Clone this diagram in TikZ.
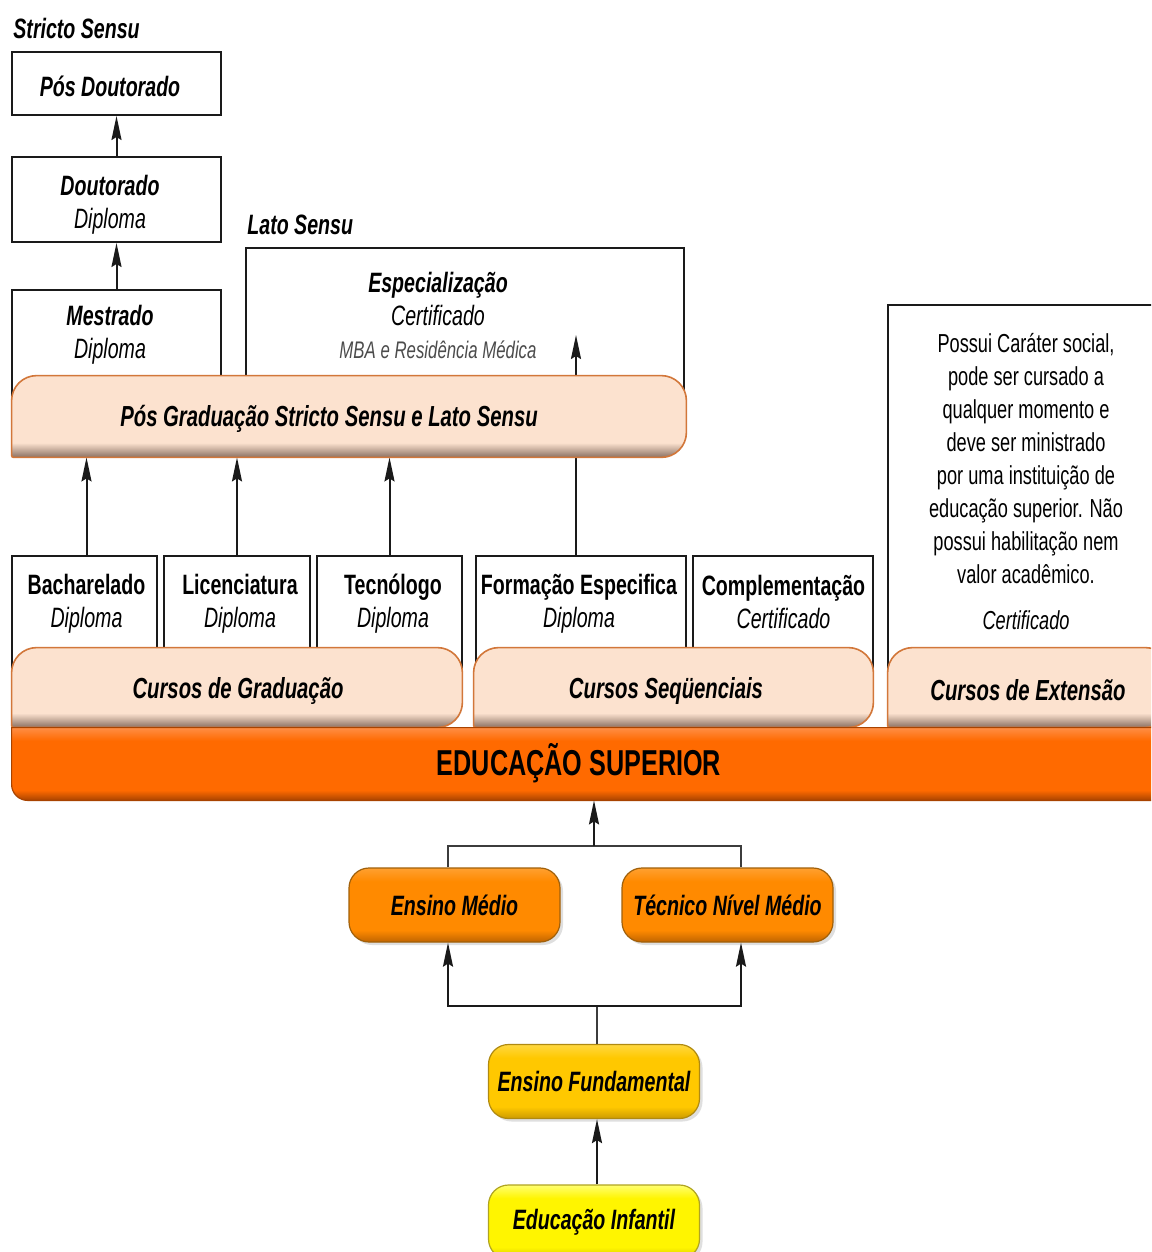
\documentclass[tikz,border=0pt]{standalone}
\usepackage{fontspec}
\setmainfont{Liberation Sans}[FakeStretch=0.7]
\usetikzlibrary{fit,calc,shadows,arrows.meta}
\definecolor{peach}{HTML}{FCE2CF}
\definecolor{peachdk}{HTML}{8A7062}
\definecolor{peachbd}{HTML}{D2773A}
\definecolor{eduor}{HTML}{FF6A00}
\definecolor{eduhi}{HTML}{FF8E45}
\definecolor{edudk}{HTML}{A84300}
\definecolor{medor}{HTML}{FF8A00}
\definecolor{medhi}{HTML}{FFA030}
\definecolor{meddk}{HTML}{C06400}
\definecolor{medbd}{HTML}{A0600A}
\definecolor{fundy}{HTML}{FFC800}
\definecolor{fundhi}{HTML}{FFD840}
\definecolor{funddk}{HTML}{CC9A00}
\definecolor{fundbd}{HTML}{B08A10}
\definecolor{infy}{HTML}{FFF500}
\definecolor{infhi}{HTML}{FFFF70}
\definecolor{infdk}{HTML}{D6C800}
\definecolor{infbd}{HTML}{B0A420}
\definecolor{linec}{HTML}{1A1A1A}
\pgfdeclareverticalshading{peachsh}{100bp}{color(0bp)=(peachdk); color(25bp)=(peachdk); color(34bp)=(peach); color(100bp)=(peach)}
\pgfdeclareverticalshading{edush}{100bp}{color(0bp)=(edudk); color(25bp)=(edudk); color(32bp)=(eduor); color(66bp)=(eduor); color(75bp)=(eduhi); color(100bp)=(eduhi)}
\pgfdeclareverticalshading{medsh}{100bp}{color(0bp)=(meddk); color(25bp)=(meddk); color(33bp)=(medor); color(66bp)=(medor); color(75bp)=(medhi); color(100bp)=(medhi)}
\pgfdeclareverticalshading{fundsh}{100bp}{color(0bp)=(funddk); color(25bp)=(funddk); color(33bp)=(fundy); color(66bp)=(fundy); color(75bp)=(fundhi); color(100bp)=(fundhi)}
\pgfdeclareverticalshading{infsh}{100bp}{color(0bp)=(infdk); color(25bp)=(infdk); color(33bp)=(infy); color(66bp)=(infy); color(75bp)=(infhi); color(100bp)=(infhi)}
\newcommand\fontBI{\bfseries\itshape}
\newcommand\openbox[1]{\draw[boxline] ($(#1.south west)+(0,30)$) -- (#1.north west) -- (#1.north east) -- ($(#1.south east)+(0,30)$);}
\newcommand\bandtop[3]{\path[draw=#3, line width=0.8pt, shading=#2] (#1.south west) [rounded corners=12.5pt] -- (#1.north west) -- (#1.north east) -- (#1.south east) [rounded corners=1pt] -- cycle;}
\begin{document}
\begin{tikzpicture}[x=0.5pt,y=-0.5pt,
  boxline/.style={draw=linec, line width=1pt},
  sqbox/.style={draw=linec, line width=1pt, inner sep=0pt},
  openbox/.style={inner sep=0pt},
  txt/.style={inner sep=0pt, align=center, font=\fontsize{14}{16.5}\selectfont},
  lbl/.style={inner sep=0pt, font=\fontsize{14}{16.5}\selectfont\bfseries\itshape},
  bandtxt/.style={inner sep=0pt, font=\fontsize{14.5}{17}\selectfont\bfseries\itshape},
  arr/.style={draw=linec, line width=1pt, -{Stealth[length=12pt,width=5pt,inset=1.5pt]}},
  conn/.style={draw=linec!85, line width=1pt},
  bandfit/.style={inner sep=0pt},
  pill/.style={rounded corners=10pt, line width=0.6pt, inner sep=0pt, minimum width=105.5pt, minimum height=37pt, font=\fontsize{14}{16.5}\selectfont\bfseries\itshape, drop shadow={opacity=0.25, shadow xshift=1.5pt, shadow yshift=-1.5pt}},
]
\clip (0,0) rectangle (1151,1252);
\fill[white] (0,0) rectangle (1151,1252);

% ---------- top: stricto sensu
\node[lbl, anchor=west] (ss) at (13,28) {Stricto Sensu};
\node[sqbox, fit={(12,52)(221,115)}] (pd) {};
\node[txt] (pdt) at (110,86) {{\fontBI Pós Doutorado}};
\node[sqbox, fit={(12,157)(221,242)}] (dt) {};
\node[txt] (dtt) at (110,205) {{\fontBI Doutorado}\\{\itshape Diploma}};
\node[openbox, fit={(12,290)(221,376)}] (ms) {};
\node[txt] (mst) at (110,335) {{\fontBI Mestrado}\\{\itshape Diploma}};
\openbox{ms}
\draw[arr] (dt.north) -- (pd.south);
\draw[arr] (ms.north) -- (dt.south);

% ---------- lato sensu
\node[lbl, anchor=west] (ls) at (247,225) {Lato Sensu};
\node[openbox, fit={(246,248)(684,376)}] (esp) {};
\openbox{esp}
\node[txt] (espt) at (438,315) {{\fontBI Especialização}\\{\itshape Certificado}\\{\fontsize{12}{16.5}\selectfont\itshape\color{black!70}MBA e Residência Médica}};
\coordinate (lat) at (576,335);

% ---------- graduation level boxes
\node[openbox, fit={(12,556)(157,648)}] (ba) {};
\node[openbox, fit={(164,556)(310,648)}] (li) {};
\node[openbox, fit={(317,556)(462,648)}] (te) {};
\node[openbox, fit={(476,556)(686,648)}] (fe) {};
\node[openbox, fit={(693,556)(873,648)}] (co) {};
\foreach \b in {ba,li,te,fe,co}{\openbox{\b}}
\node[txt] (bat) at (86.5,603.5) {{\bfseries Bacharelado}\\{\itshape Diploma}};
\node[txt] (lit) at (240,603.5) {{\bfseries Licenciatura}\\{\itshape Diploma}};
\node[txt] (tet) at (393,603.5) {{\bfseries Tecnólogo}\\{\itshape Diploma}};
\node[txt] (fet) at (579,603.5) {{\bfseries Formação Especifica}\\{\itshape Diploma}};
\node[txt] (cot) at (783.5,602) {{\bfseries Complementação}\\{\itshape Certificado}};
\node[openbox, fit={(888,305)(1151,648)}] (exb) {};
\draw[boxline] ($(exb.south west)+(0,30)$) -- (exb.north west) -- ($(exb.north east)+(20,0)$);
\node[inner sep=0pt, align=center, font=\fontsize{13}{16.5}\selectfont] (ext) at (1026,482)
  {Possui Caráter social,\\pode ser cursado a\\qualquer momento e\\deve ser ministrado\\por uma instituição de\\educação superior. Não\\possui habilitação nem\\valor acadêmico.\\[6.5pt]{\itshape Certificado}};

% ---------- pos graduacao band
\node[bandfit, fit={(12,376)(686,457)}] (pg) {};
\draw[arr] (ba.north -| bat) -- (bat |- pg.south);
\draw[arr] (li.north) -- (li.north |- pg.south);
\draw[arr] (te.north) -- (te.north |- pg.south);
\draw[arr] (fe.north -| lat) -- (lat);
\bandtop{pg}{peachsh}{peachbd}
\node[bandtxt] (pgt) at (329,419) {Pós Graduação Stricto Sensu e Lato Sensu};

% ---------- cursos bands
\node[bandfit, fit={(12,648)(462,727)}] (cg) {};
\node[bandfit, fit={(474,648)(873,727)}] (cs) {};
\node[bandfit, fit={(888,648)(1170,727)}] (ce) {};
\bandtop{cg}{peachsh}{peachbd}
\bandtop{cs}{peachsh}{peachbd}
\bandtop{ce}{peachsh}{peachbd}
\node[bandtxt] (cgt) at (238,691) {Cursos de Graduação};
\node[bandtxt] (cst) at (666,691) {Cursos Seqüenciais};
\node[bandtxt] (cet) at (1028,690) {Cursos de Extensão};

% ---------- educacao superior
\node[bandfit, fit={(12,728)(1175,800)}] (es) {};
\path[draw=edudk, line width=0.6pt, shading=edush] (es.north west) [rounded corners=8pt] -- (es.south west) -- (es.south east) [sharp corners] -- (es.north east) -- cycle;
\node[inner sep=0pt, font=\fontsize{18}{20}\selectfont\bfseries] (est) at (579,763) {EDUCAÇÃO SUPERIOR};

% ---------- lower levels
\node[pill, draw=medbd, shading=medsh] (em) at (454.5,905) {Ensino Médio};
\node[pill, draw=medbd, shading=medsh] (tn) at (727.5,905) {Técnico Nível Médio};
\node[pill, draw=fundbd, shading=fundsh] (ef) at (594,1081.5) {Ensino Fundamental};
\node[pill, draw=infbd, shading=infsh] (ei) at (594,1222) {Educação Infantil};

\coordinate (emx) at (448,0);
\coordinate (tnx) at (741,0);
\coordinate (j1) at (594,846);
\coordinate (j2) at (597,1006);
\draw[conn] (em.north -| emx) |- (j1) -| (tn.north -| tnx);
\draw[arr] (j1) -- (j1 |- es.south);
\draw[conn] (ef.north -| j2) -- (j2);
\draw[arr] (j2) -| (em.south -| emx);
\draw[arr] (j2) -| (tn.south -| tnx);
\draw[arr] (ei.north -| j2) -- (ef.south -| j2);
\end{tikzpicture}
\end{document}
